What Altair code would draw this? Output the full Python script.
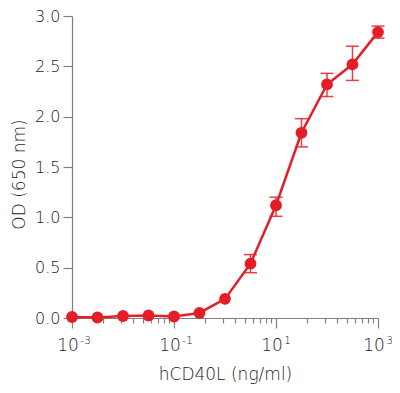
import altair as alt
import pandas as pd

conc = [0.001, 0.00316, 0.01, 0.0316, 0.1, 0.316, 1, 3.16, 10, 31.6, 100, 316, 1000]
od = [0.01, 0.005, 0.02, 0.025, 0.015, 0.05, 0.19, 0.54, 1.12, 1.84, 2.32, 2.52, 2.84]
err_lo = [0.01, 0.005, 0.02, 0.025, 0.015, 0.05, 0.19, 0.45, 1.01, 1.70, 2.20, 2.36, 2.78]
err_hi = [0.01, 0.005, 0.02, 0.025, 0.015, 0.05, 0.19, 0.63, 1.20, 1.98, 2.43, 2.70, 2.90]

x_ticks = [0.001, 0.004, 0.009, 0.016, 0.025, 0.036, 0.049, 0.064, 0.081,
           0.1, 0.4, 0.9, 1.6, 2.5, 3.6, 4.9, 6.4, 8.1,
           10, 40, 90, 160, 250, 360, 490, 640, 810, 1000]
x_major = [0.001, 0.1, 10, 1000]
x_major_base = ["10", "10", "10", "10"]
x_major_exp = ["-3", "-1", "1", "3"]
y_ticks = [0, 0.5, 1.0, 1.5, 2.0, 2.5, 3.0]

RED = "#e41e26"
FONT = "DejaVu Sans"
FW = 200
TXT = "#1a1a1a"
AX = "#808080"
W, H = 306, 302

df = pd.DataFrame({"conc": conc, "od": od, "lo": err_lo, "hi": err_hi})
lab = pd.DataFrame({"conc": x_major, "base": x_major_base, "exp": x_major_exp})

major_test = "datum.value == 0.001 || datum.value == 0.1 || datum.value == 10 || datum.value == 1000"
xscale = alt.Scale(type="log", domain=[0.001, 1000], nice=False)
yscale = alt.Scale(domain=[0, 3], nice=False)

x_enc = alt.X("conc:Q", scale=xscale,
              axis=alt.Axis(values=x_ticks, labels=False,
                            tickSize={"condition": {"test": major_test, "value": 10}, "value": 5},
                            title="hCD40L (ng/ml)", titlePadding=38, grid=False))
y_axis = alt.Axis(values=y_ticks, format=".1f", tickSize=9, labelPadding=3,
                  title="OD (650 nm)", titlePadding=6, titleY=158, grid=False)
y_enc = alt.Y("od:Q", scale=yscale, axis=y_axis)

base = alt.Chart(df)

err = base.transform_filter("datum.hi - datum.lo > 0.05").mark_errorbar(
    ticks=True, size=13, thickness=1.5, color=RED, opacity=0.85
).encode(x=x_enc, y=alt.Y("lo:Q", scale=yscale, axis=y_axis), y2="hi:Q")

line = base.mark_line(color=RED, strokeWidth=2.5).encode(x=x_enc, y=y_enc)
pts = base.mark_point(filled=True, shape="circle", size=139, color=RED, opacity=1).encode(x=x_enc, y=y_enc)

lab_base = alt.Chart(lab).mark_text(
    font=FONT, fontWeight=FW, fontSize=17, color=TXT, align="center", baseline="alphabetic", dx=-4
).encode(x=x_enc, y=alt.value(H + 33), text="base:N")
lab_exp = alt.Chart(lab).mark_text(
    font=FONT, fontWeight=FW, fontSize=11, color=TXT, align="left", baseline="alphabetic", dx=8
).encode(x=x_enc, y=alt.value(H + 26), text="exp:N")

chart = alt.layer(err, line, pts, lab_base, lab_exp).properties(
    width=W, height=H,
    autosize=alt.AutoSizeParams(type="none"),
    padding={"left": 64, "top": 8, "right": 14, "bottom": 67},
).configure_axis(
    labelFont=FONT, titleFont=FONT, labelFontSize=16, titleFontSize=17,
    labelFontWeight=FW, titleFontWeight=FW,
    labelColor=TXT, titleColor=TXT,
    domainColor=AX, tickColor=AX, domainWidth=1.2, tickWidth=1.2,
).configure_view(stroke=None)

chart.save("out.html", embed_options={"renderer": "svg", "actions": False})
